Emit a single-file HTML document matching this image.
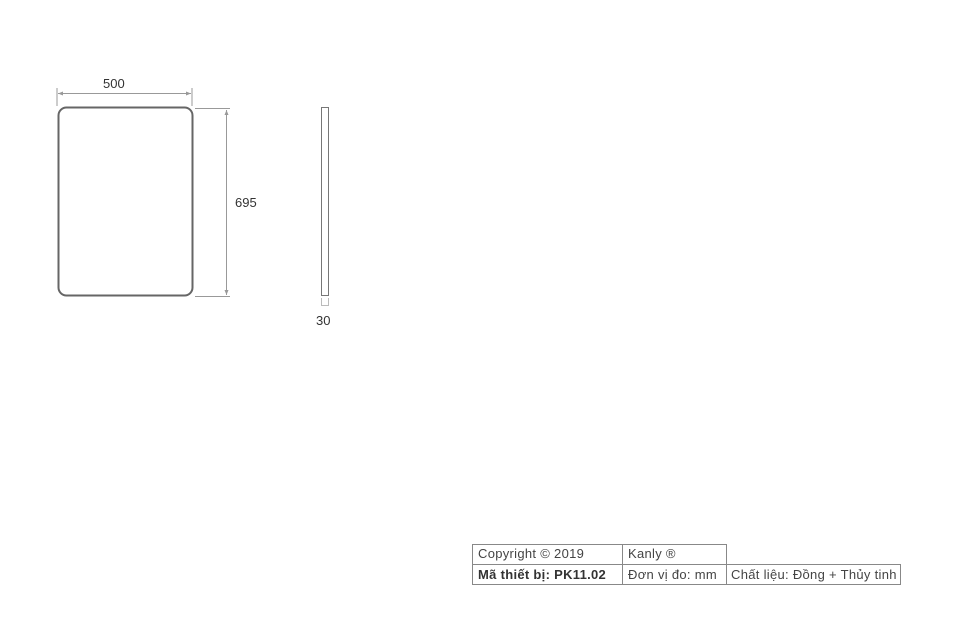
<!DOCTYPE html>
<html><head><meta charset="utf-8"><style>
body{margin:0;width:960px;height:640px;background:#fff;overflow:hidden;font-family:"Liberation Sans",sans-serif;}
.t{position:absolute;font-size:13px;color:#333;white-space:nowrap;}
.c{position:absolute;font-size:13px;letter-spacing:0.3px;color:#444;white-space:nowrap;}
</style></head><body>
<svg width="960" height="640" style="position:absolute;left:0;top:0">
<rect x="58.5" y="107.5" width="134" height="188" rx="8" fill="none" stroke="#666" stroke-width="2"/>
<g stroke="#999" stroke-width="1" fill="none">
<line x1="57" y1="88" x2="57" y2="106"/>
<line x1="192" y1="88" x2="192" y2="106"/>
<line x1="58" y1="93.5" x2="191" y2="93.5"/>
<line x1="195" y1="108.5" x2="230" y2="108.5"/>
<line x1="195" y1="296.5" x2="230" y2="296.5"/>
<line x1="226.5" y1="110" x2="226.5" y2="295"/>
<polyline points="321.5,298 321.5,305.5 328.5,305.5 328.5,298" stroke="#bbb"/>
</g>
<g fill="#999">
<polygon points="58,93.5 63,91.5 63,95.5"/>
<polygon points="191,93.5 186,91.5 186,95.5"/>
<polygon points="226.5,110 224.5,115 228.5,115"/>
<polygon points="226.5,295 224.5,290 228.5,290"/>
</g>
<rect x="321.5" y="107.5" width="7" height="188" fill="none" stroke="#777" stroke-width="1"/>
<g stroke="#888" stroke-width="1" fill="none">
<line x1="472.5" y1="544.5" x2="726.5" y2="544.5"/>
<line x1="472.5" y1="564.5" x2="900.5" y2="564.5"/>
<line x1="472.5" y1="584.5" x2="900.5" y2="584.5"/>
<line x1="472.5" y1="544" x2="472.5" y2="585"/>
<line x1="622.5" y1="544" x2="622.5" y2="585"/>
<line x1="726.5" y1="544" x2="726.5" y2="585"/>
<line x1="900.5" y1="564" x2="900.5" y2="585"/>
</g>
</svg>
<div class="t" style="left:103px;top:76px">500</div>
<div class="t" style="left:235px;top:195px">695</div>
<div class="t" style="left:316px;top:313px">30</div>
<div class="c" style="left:478px;top:546px">Copyright © 2019</div>
<div class="c" style="left:628px;top:546px">Kanly ®</div>
<div class="c" style="left:478px;top:567px;font-weight:bold;color:#333">Mã thiết bị: PK11.02</div>
<div class="c" style="left:628px;top:567px">Đơn vị đo: mm</div>
<div class="c" style="left:731px;top:567px">Chất liệu: Đồng + Thủy tinh</div>
</body></html>
